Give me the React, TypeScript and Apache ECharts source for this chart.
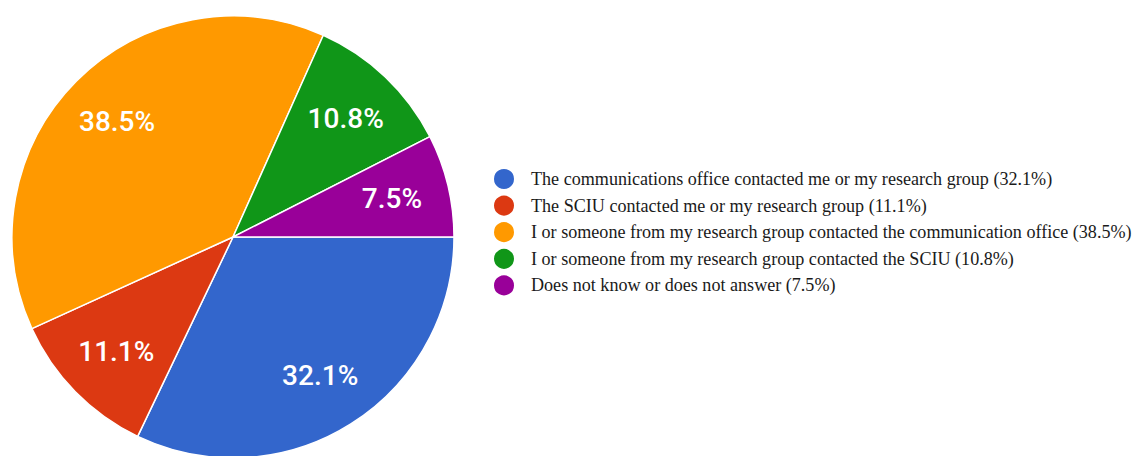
import React, { useEffect, useRef } from "react";
import * as echarts from "echarts";

const categories = [
  "The communications office contacted me or my research group",
  "The SCIU contacted me or my research group",
  "I or someone from my research group contacted the communication office",
  "I or someone from my research group contacted the SCIU",
  "Does not know or does not answer",
];
const values = [32.1, 11.1, 38.5, 10.8, 7.5];
const colors = ["#3366CC", "#DC3912", "#FF9900", "#109618", "#990099"];

export default function App() {
  const ref = useRef<HTMLDivElement>(null);
  useEffect(() => {
    if (!ref.current) return;
    const chart = echarts.init(ref.current, null, { renderer: "svg" });
    const data = categories.map((name, i) => ({
      name,
      value: values[i],
      itemStyle: { color: colors[i] },
    }));
    const R = 221;
    chart.setOption({
      animation: false,
      color: colors,
      legend: {
        orient: "vertical",
        left: 492,
        top: 167,
        icon: "circle",
        itemWidth: 22,
        itemHeight: 22,
        itemGap: 2.6,
        padding: 0,
        data: categories,
        selectedMode: false,
        formatter: (name: string) => {
          const i = categories.indexOf(name);
          return `${name} (${values[i]}%)`;
        },
        textStyle: {
          fontFamily: "Liberation Serif",
          fontSize: 18.1,
          lineHeight: 22,
          color: "#1a1a1a",
          padding: [0, 0, 0, 11],
        },
      },
      series: [
        {
          type: "pie",
          center: [233, 237],
          radius: [0, R],
          startAngle: 0,
          clockwise: true,
          silent: true,
          label: { show: false },
          labelLine: { show: false },
          itemStyle: { borderColor: "#fff", borderWidth: 1.5 },
          data,
        },
        {
          type: "pie",
          center: [233, 237],
          radius: [100, R],
          startAngle: 0,
          clockwise: true,
          silent: true,
          itemStyle: { color: "rgba(0,0,0,0)", borderWidth: 0 },
          label: {
            show: true,
            position: "inside",
            formatter: (p: any) => `${p.value}%`,
            color: "#fff",
            fontFamily: "Roboto",
            fontWeight: 500,
            fontSize: 28,
          },
          labelLine: { show: false },
          data: categories.map((name, i) => ({ name, value: values[i] })),
        },
      ],
    });
    return () => chart.dispose();
  }, []);
  return (
    <div
      ref={ref}
      style={{ position: "absolute", left: 0, top: 0, width: 1134, height: 456 }}
    />
  );
}
